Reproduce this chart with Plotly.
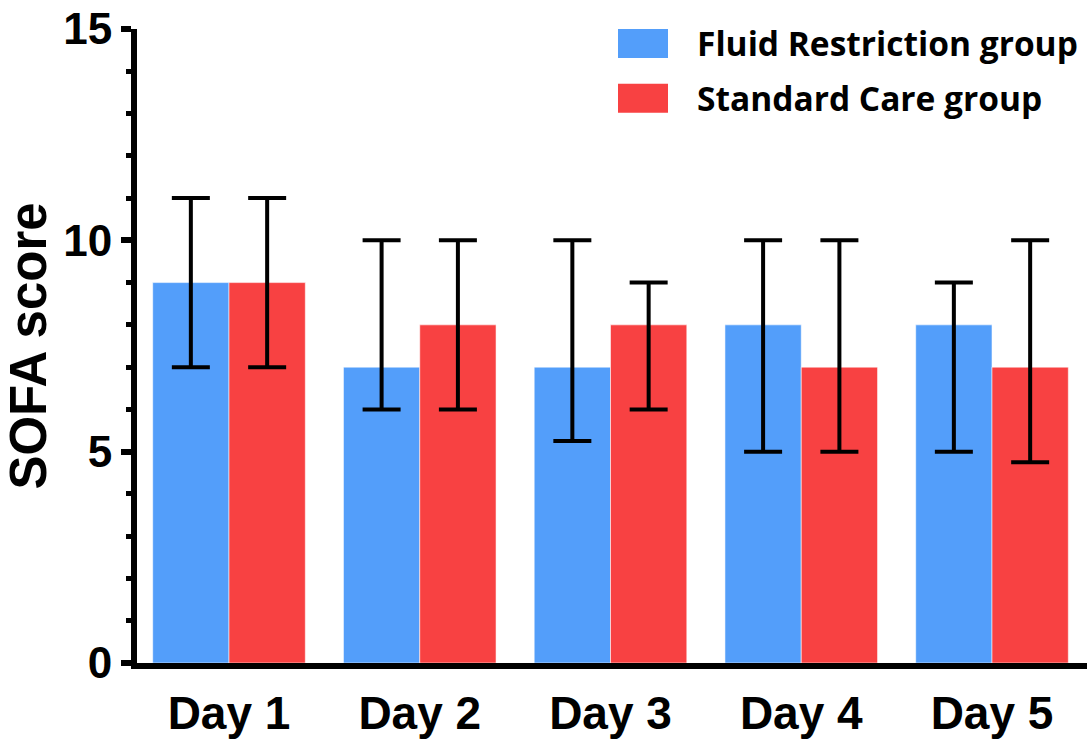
import plotly.graph_objects as go

days = ["Day 1", "Day 2", "Day 3", "Day 4", "Day 5"]
group_names = ["Fluid Restriction group", "Standard Care group"]

fr_median = [9, 7, 7, 8, 8]
fr_q1 = [7, 6, 5.25, 5, 5]
fr_q3 = [11, 10, 10, 10, 9]

sc_median = [9, 8, 8, 7, 7]
sc_q1 = [7, 6, 6, 5, 4.75]
sc_q3 = [11, 10, 9, 10, 10]

colors = ["#539EFA", "#F84142"]

AX_FONT = "Liberation Sans, Arial, sans-serif"

fig = go.Figure()
for name, med, q1, q3, col in [
    (group_names[0], fr_median, fr_q1, fr_q3, colors[0]),
    (group_names[1], sc_median, sc_q1, sc_q3, colors[1]),
]:
    fig.add_trace(go.Bar(
        x=days, y=med, name=name,
        marker=dict(color=col, line=dict(color="rgba(255,255,255,0.55)", width=1)),
        error_y=dict(type="data", symmetric=False,
                     array=[h - m for h, m in zip(q3, med)],
                     arrayminus=[m - l for m, l in zip(med, q1)],
                     color="black", thickness=4, width=19),
        showlegend=False,
    ))

# custom legend (large swatches), paper coords for plot area 137..1087 x 27..663
def px_x(p):
    return (p - 137) / 950.0

def px_y(p):
    return (663 - p) / 636.0

leg_rows = [(27, 56), (82, 111)]
for (top, bot), name, col in zip(leg_rows, group_names, colors):
    fig.add_shape(type="rect", xref="paper", yref="paper",
                  x0=px_x(618), x1=px_x(668), y0=px_y(bot), y1=px_y(top),
                  fillcolor=col, line=dict(width=0))
    fig.add_annotation(xref="paper", yref="paper", x=px_x(695),
                       y=px_y((top + bot) / 2),
                       text=name, showarrow=False, xanchor="left", yanchor="middle",
                       font=dict(family="Open Sans", size=33.5, color="black", weight="bold"))

fig.update_layout(
    width=1091, height=743,
    margin=dict(l=137, r=4, t=27, b=80),
    plot_bgcolor="white", paper_bgcolor="white",
    barmode="group", bargap=0.2, bargroupgap=0,
    xaxis=dict(
        showline=True, linecolor="black", linewidth=6,
        ticks="", showgrid=False, zeroline=False, automargin=False,
        range=[-0.4823, 4.498],
        tickfont=dict(family=AX_FONT, size=46, color="black", weight="bold"),
        ticklabelstandoff=5,
    ),
    yaxis=dict(
        range=[0, 15], dtick=5, tick0=0, automargin=True,
        ticklabeloverflow="allow",
        showline=True, linecolor="black", linewidth=6,
        ticks="outside", ticklen=10, tickwidth=6, tickcolor="black",
        minor=dict(dtick=1, ticks="outside", ticklen=5, tickwidth=5, tickcolor="black"),
        showgrid=False, zeroline=False,
        tickfont=dict(family=AX_FONT, size=44, color="black", weight="bold"),
        title=dict(text="SOFA score", standoff=16,
                   font=dict(family=AX_FONT, size=51, color="black", weight="bold")),
    ),
)

fig.write_html("out.html", config={"displayModeBar": False},
               post_script="document.body.style.margin='0';")
